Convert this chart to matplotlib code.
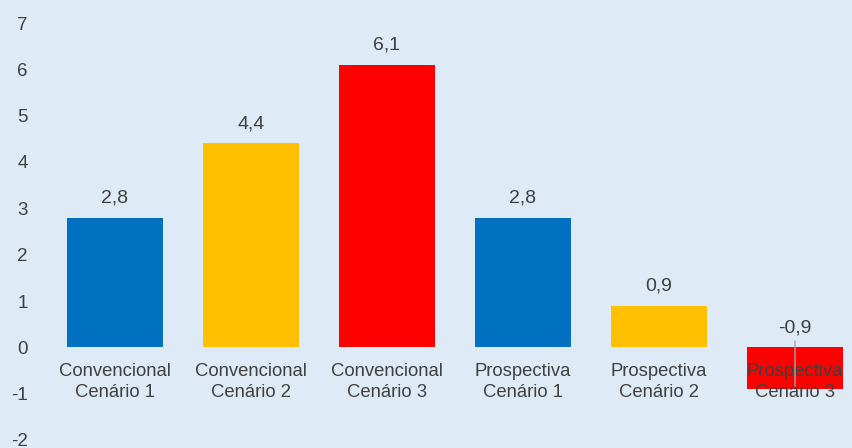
import matplotlib.pyplot as plt

plt.rcParams['font.family'] = ['Liberation Sans', 'DejaVu Sans']

categories = ['Convencional\nCenário 1', 'Convencional\nCenário 2', 'Convencional\nCenário 3',
              'Prospectiva\nCenário 1', 'Prospectiva\nCenário 2', 'Prospectiva\nCenário 3']
values = [2.8, 4.4, 6.1, 2.8, 0.9, -0.9]
colors = ['#0070C0', '#FFC000', '#FF0000', '#0070C0', '#FFC000', '#FF0000']
yticks = list(range(-2, 8))

bg = '#DEEAF6'
txt = '#404040'

fig = plt.figure(figsize=(8.53, 4.48), dpi=100, facecolor=bg)
ax = fig.add_axes([47/853, 1 - 440/448, 816/853, 417/448])
ax.set_facecolor(bg)

x = list(range(len(values)))
ax.bar(x, values, width=0.706, color=colors, zorder=2)

ax.set_xlim(-0.5, 5.5)
ax.set_ylim(-2, 7)
ax.set_yticks(yticks)
ax.set_yticklabels([str(t) for t in yticks], fontsize=13.5, color=txt)
ax.tick_params(axis='y', length=0, pad=14)
ax.set_xticks([])
for s in ax.spines.values():
    s.set_visible(False)

# category labels sit just under the zero line
for i, c in enumerate(categories):
    ax.annotate(c, (i, 0), xytext=(0, -11.5), textcoords='offset points',
                ha='center', va='top', fontsize=13.3, color=txt,
                linespacing=1.3, zorder=3, annotation_clip=False)

# data labels
for i, v in enumerate(values):
    base = max(v, 0)
    ax.annotate(f'{v:.1f}'.replace('.', ','), (i, base), xytext=(0, 14),
                textcoords='offset points', ha='center', va='center',
                fontsize=14, color=txt, zorder=3)
    if v < 0:
        # leader line from label down through the bar
        ax.annotate('', (i, v), xytext=(i, 0.2),
                    arrowprops=dict(arrowstyle='-', color='#A6A6A6', lw=1),
                    zorder=4)

fig.savefig('out.png', dpi=100, facecolor=bg)
